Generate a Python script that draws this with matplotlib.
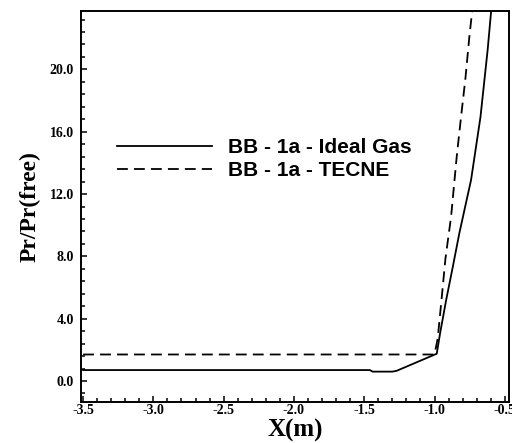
import matplotlib.pyplot as plt
import numpy as np
from matplotlib.ticker import MultipleLocator, FormatStrFormatter

# pressure ratio along the body, two gas models
x_ideal = [-3.5, -1.46, -1.44, -1.30, -1.27, -0.984, -0.960, -0.917, -0.870,
           -0.823, -0.740, -0.673, -0.622, -0.597]
p_ideal = [0.70, 0.70, 0.60, 0.60, 0.65, 1.75, 3.08, 5.20, 7.32,
           9.50, 12.90, 16.94, 21.25, 23.75]

x_tecne = [-3.5, -1.0, -0.977, -0.948, -0.922, -0.882, -0.842, -0.811,
           -0.780, -0.752, -0.732]
p_tecne = [1.70, 1.70, 2.74, 5.41, 7.87, 10.55, 14.40, 16.96,
           19.43, 22.10, 23.75]

labels = ['BB - 1a - Ideal Gas', 'BB - 1a - TECNE']

fig = plt.figure(figsize=(5.12, 4.43), dpi=100)
ax = fig.add_axes([81/512, 1-402/443, (509-81)/512, (402-11)/443])

ax.plot(x_ideal, p_ideal, color='black', lw=1.3, label=labels[0])
ax.plot(x_tecne, p_tecne, color='black', lw=1.3, dashes=(6, 3.4), label=labels[1])

ax.set_xlim(-3.515, -0.47)
ax.set_ylim(-1.35, 23.75)

ax.xaxis.set_major_locator(MultipleLocator(0.5))
ax.xaxis.set_minor_locator(MultipleLocator(0.1))
ax.yaxis.set_major_locator(MultipleLocator(4.0))
ax.yaxis.set_minor_locator(MultipleLocator(0.8))
ax.xaxis.set_major_formatter(FormatStrFormatter('%.1f'))
ax.yaxis.set_major_formatter(FormatStrFormatter('%.1f'))

ax.tick_params(which='both', direction='in', top=False, right=False, width=1.1)
ax.tick_params(which='major', length=4.5)
ax.tick_params(which='minor', length=3)
ax.tick_params(axis='x', pad=1.5)
ax.tick_params(axis='y', pad=5)
for lab in ax.get_xticklabels() + ax.get_yticklabels():
    lab.set_fontfamily('Liberation Serif')
    lab.set_fontweight('bold')
    lab.set_fontsize(10)
for sp in ax.spines.values():
    sp.set_linewidth(1.4)

ax.set_xlabel('X(m)', family='Liberation Serif', weight='bold', fontsize=18)
ax.set_ylabel('Pr/Pr(free)', family='Liberation Serif', weight='bold', fontsize=17)
ax.xaxis.set_label_coords(0.5, -0.042)
ax.yaxis.set_label_coords(-0.095, 0.5)

leg = ax.legend(loc='upper left', bbox_to_anchor=(0.084, 0.675), frameon=False,
                borderpad=0, borderaxespad=0,
                handlelength=4.55, handletextpad=0.78, labelspacing=0.2,
                prop={'family': 'Liberation Sans', 'weight': 'bold', 'size': 15})

fig.savefig('out.png', dpi=100)
